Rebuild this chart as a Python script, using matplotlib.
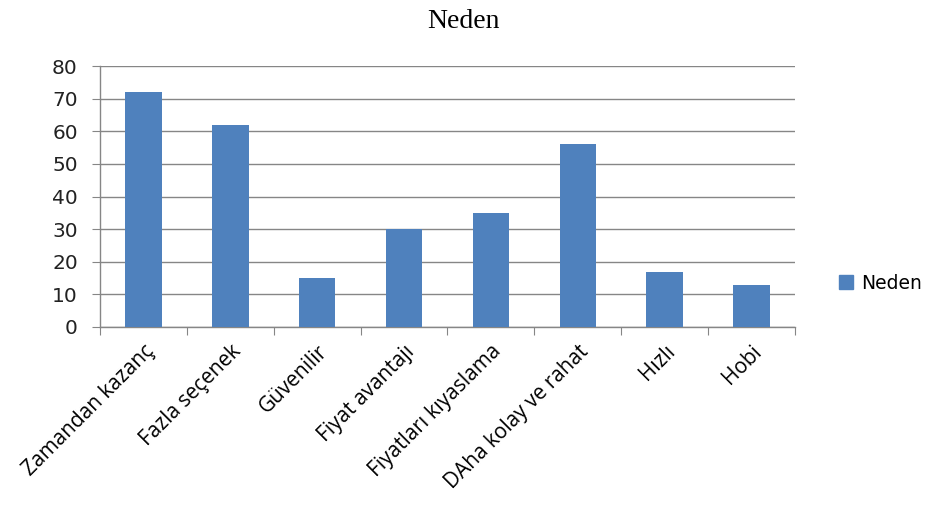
import matplotlib.pyplot as plt
import numpy as np
from matplotlib.patches import Patch

categories = [
    "Zamandan kazanç",
    "Fazla seçenek",
    "Güvenilir",
    "Fiyat avantajı",
    "Fiyatları kıyaslama",
    "DAha kolay ve rahat",
    "Hızlı",
    "Hobi",
]
values = [72, 62, 15, 30, 35, 56, 17, 13]
series_name = "Neden"

BAR_COLOR = "#4F81BD"
GRID_COLOR = "#868686"

fig = plt.figure(figsize=(9.26, 5.13), dpi=100)
ax = fig.add_axes([0.108, 0.3626, 0.7505, 0.5087])

x = np.arange(len(categories))
ax.bar(x, values, width=0.42, color=BAR_COLOR, zorder=3)

ax.set_xlim(-0.5, len(categories) - 0.5)
ax.set_ylim(0, 80)
ax.set_yticks(np.arange(0, 81, 10))
ax.yaxis.grid(True, color=GRID_COLOR, linewidth=1.0, zorder=0)

# category ticks sit on the boundaries between bars
ax.set_xticks(np.arange(-0.5, len(categories) + 0.5, 1.0))
ax.set_xticklabels([])
ax.set_xticks(x, minor=True)
ax.set_xticklabels(categories, minor=True, rotation=45, ha="right",
                   va="top", rotation_mode="anchor", fontsize=15,
                   family="Open Sans")
ax.tick_params(axis="x", which="minor", length=0, pad=10)
ax.tick_params(axis="x", which="major", length=6, color=GRID_COLOR)
ax.tick_params(axis="y", length=6, color=GRID_COLOR, labelsize=14.5, pad=10)
for lbl in ax.get_yticklabels():
    lbl.set_family("DejaVu Sans")
    lbl.set_color("#222222")

for side in ("top", "right"):
    ax.spines[side].set_visible(False)
for side in ("left", "bottom"):
    ax.spines[side].set_color(GRID_COLOR)
    ax.spines[side].set_linewidth(1.0)

fig.text(0.5, 0.958, "Neden", ha="center", va="center",
         fontsize=20, family="Liberation Serif")

fig.legend(handles=[Patch(color=BAR_COLOR, label=series_name)],
           loc="center left", bbox_to_anchor=(0.888, 0.448),
           frameon=False, prop={"family": "DejaVu Sans", "size": 13.5},
           handlelength=0.75, handleheight=0.75, handletextpad=0.4)

fig.savefig("out.png", dpi=100)
